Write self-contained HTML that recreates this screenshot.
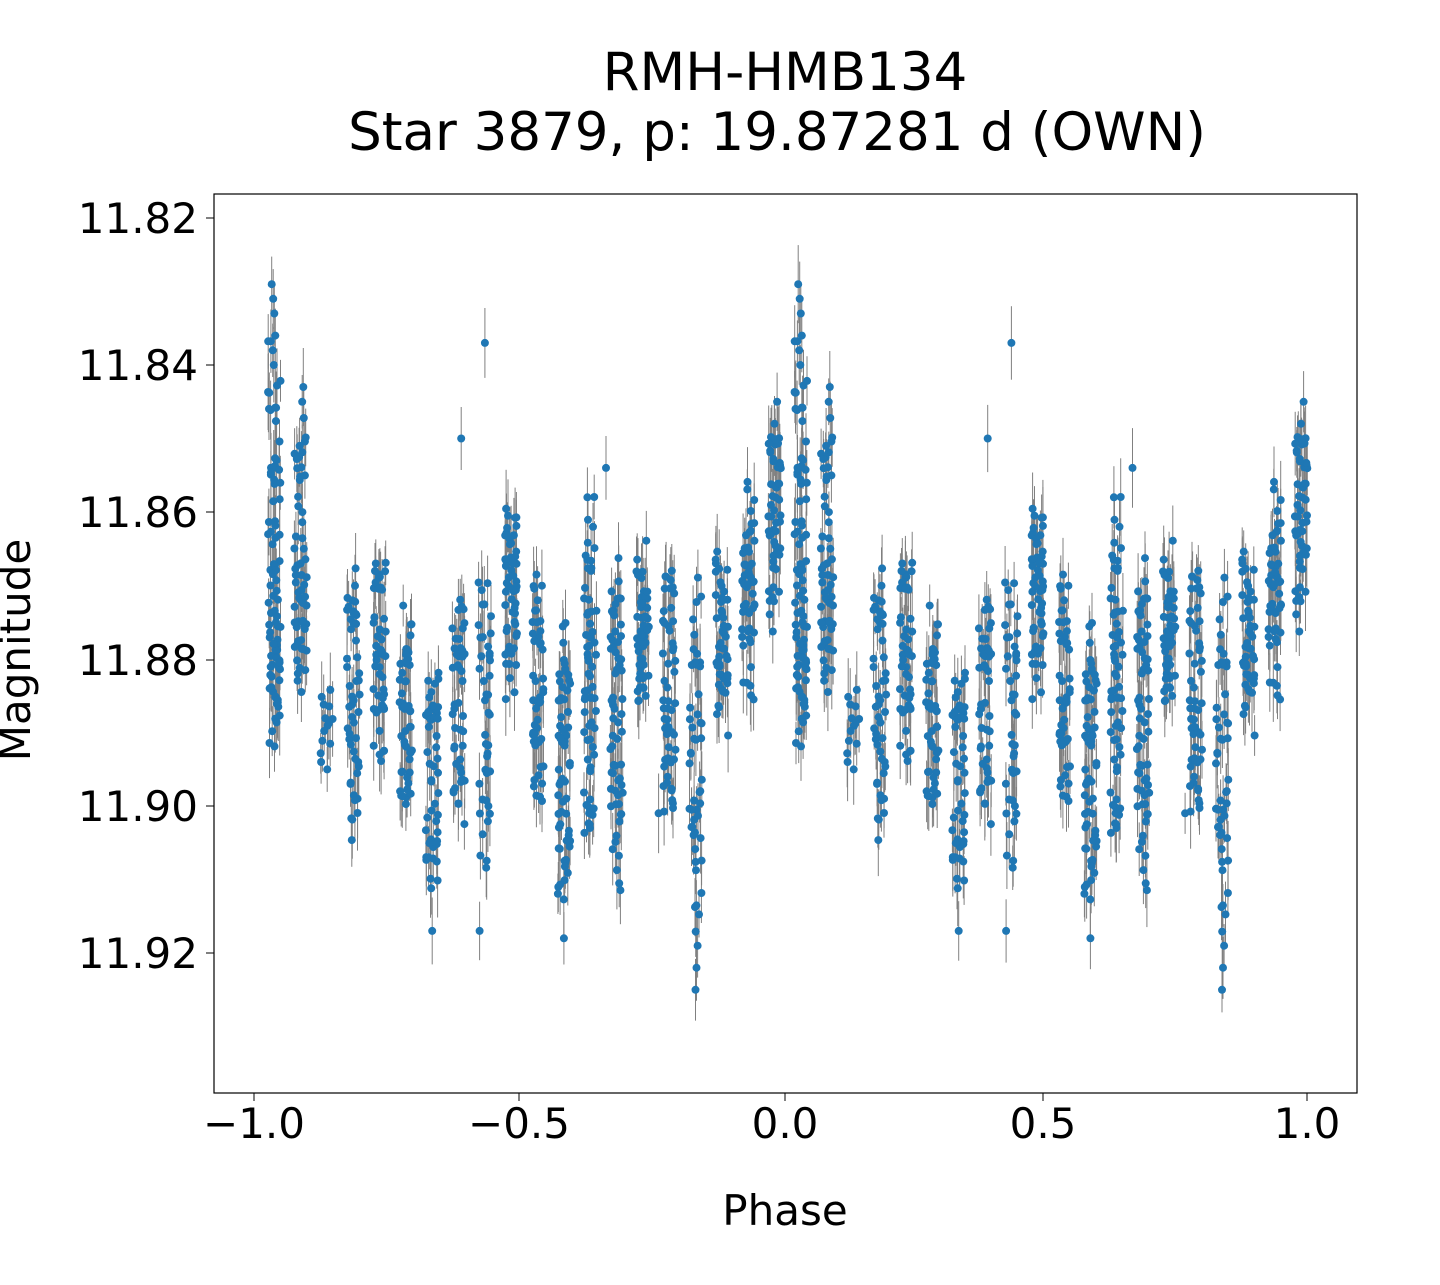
<!DOCTYPE html>
<html><head><meta charset="utf-8"><style>
body{margin:0;background:#fff}
svg text{font-family:"DejaVu Sans","Liberation Sans",sans-serif;fill:#000}
</style></head><body>
<svg id="s" width="1440" height="1280" xmlns="http://www.w3.org/2000/svg">
<rect width="1440" height="1280" fill="#fff"/>
<text x="785" y="90" font-size="53" text-anchor="middle">RMH-HMB134</text>
<text x="777" y="150" font-size="53" text-anchor="middle">Star 3879, p: 19.87281 d (OWN)</text>
<g id="d"></g>
<rect x="214" y="194" width="1143" height="899" fill="none" stroke="#000" stroke-width="1.2"/>
<g font-size="42" text-anchor="end">
<line x1="206" x2="214" y1="218" y2="218" stroke="#000"/><text x="198" y="233">11.82</text>
<line x1="206" x2="214" y1="365" y2="365" stroke="#000"/><text x="198" y="380">11.84</text>
<line x1="206" x2="214" y1="512" y2="512" stroke="#000"/><text x="198" y="527">11.86</text>
<line x1="206" x2="214" y1="660" y2="660" stroke="#000"/><text x="198" y="675">11.88</text>
<line x1="206" x2="214" y1="806" y2="806" stroke="#000"/><text x="198" y="821">11.90</text>
<line x1="206" x2="214" y1="953" y2="953" stroke="#000"/><text x="198" y="968">11.92</text>
</g>
<g font-size="42" text-anchor="middle">
<line x1="254" x2="254" y1="1093" y2="1101" stroke="#000"/><text x="254" y="1138">−1.0</text>
<line x1="519" x2="519" y1="1093" y2="1101" stroke="#000"/><text x="519" y="1138">−0.5</text>
<line x1="785" x2="785" y1="1093" y2="1101" stroke="#000"/><text x="785" y="1138">0.0</text>
<line x1="1043" x2="1043" y1="1093" y2="1101" stroke="#000"/><text x="1043" y="1138">0.5</text>
<line x1="1307" x2="1307" y1="1093" y2="1101" stroke="#000"/><text x="1307" y="1138">1.0</text>
</g>
<text x="785" y="1225" font-size="42" text-anchor="middle">Phase</text>
<text x="0" y="0" font-size="42" text-anchor="middle" transform="translate(30,650) rotate(-90)">Magnitude</text>
</svg>
<script>
var seed=7;function r(){seed=(seed*16807)%2147483647;return seed/2147483647;}
function X(p){return 785+p*526.5;}function Y(m){return 218+(m-11.82)*7350;}
var C=[[0.03,11.829,11.899,90],[0.08,11.843,11.892,60],[0.13,11.882,11.897,14],[0.18,11.862,11.91,50],[0.23,11.862,11.90,50],[0.28,11.866,11.905,50],[0.33,11.876,11.917,50],[0.38,11.866,11.905,45],[0.43,11.865,11.91,45],[0.48,11.854,11.89,55],[0.53,11.865,11.905,50],[0.58,11.87,11.918,65],[0.63,11.852,11.912,65],[0.68,11.862,11.915,65],[0.73,11.862,11.89,50],[0.78,11.862,11.905,55],[0.83,11.86,11.925,50],[0.88,11.862,11.895,50],[0.93,11.852,11.89,55],[0.98,11.845,11.878,55]];
var pts=[[0.43,11.837],[0.385,11.850],[0.76,11.901],[0.66,11.854],
[0.025,11.829],[0.028,11.831],[0.03,11.833],[0.032,11.836],[0.027,11.838],[0.029,11.840],[0.085,11.843],[0.083,11.845],
[0.83,11.925],[0.832,11.922],[0.834,11.919],[0.33,11.917],[0.58,11.918],[0.985,11.845],[0.98,11.848],[0.975,11.85],[0.42,11.917]];
C.forEach(function(c){for(var i=0;i<c[3];i++){var m=c[1]+(c[2]-c[1])*(0.7*r()+0.3*(0.5+0.5*(r()-r())));var p=c[0]-0.012+0.024*r();pts.push([p,m]);}});
var g='',d='';
pts.forEach(function(q){[q[0],q[0]-1].forEach(function(p){var x=X(p),y=Y(q[1]),e=20+r()*20;
g+='<line x1="'+x.toFixed(1)+'" x2="'+x.toFixed(1)+'" y1="'+(y-e).toFixed(1)+'" y2="'+(y+e).toFixed(1)+'" stroke="#808080" stroke-width="1"/>';
d+='<circle cx="'+x.toFixed(1)+'" cy="'+y.toFixed(1)+'" r="4" fill="#1f77b4"/>';});});
document.getElementById('d').innerHTML=g+d;
</script>
</body></html>
